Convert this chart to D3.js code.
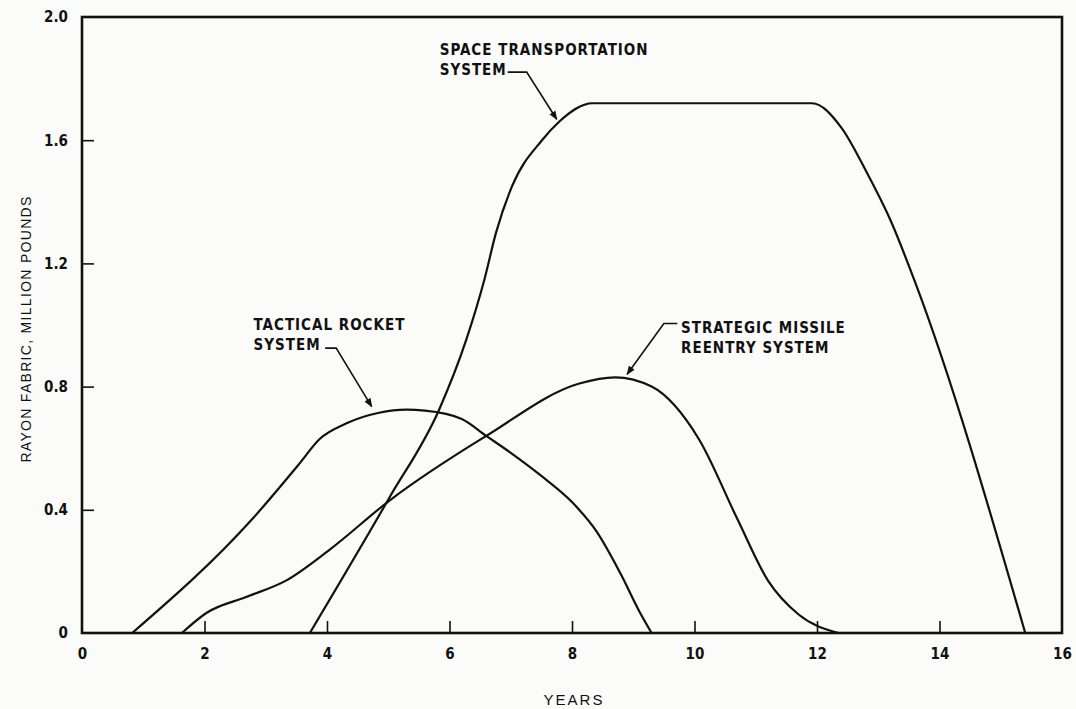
<!DOCTYPE html>
<html>
<head>
<meta charset="utf-8">
<script src="https://cdn.jsdelivr.net/npm/d3@7"></script>
<style>
  body { margin: 0; background: #fbfbfa; }
  svg { display: block; }
  .tick text { font-family: "Liberation Sans Narrow", "DejaVu Sans Condensed", sans-serif; font-weight: bold; font-size: 15px; fill: #111; }
  .note { font-family: "Liberation Sans Narrow", "DejaVu Sans Condensed", sans-serif; font-weight: bold; font-size: 15px; fill: #111; letter-spacing: 1px; }
  .title { font-family: "Liberation Sans", Arial, sans-serif; font-size: 14px; fill: #111; letter-spacing: 1.3px; }
  .curve { fill: none; stroke: #111; stroke-width: 2.2; }
</style>
</head>
<body>
<svg width="1076" height="709"></svg>
<script>
// values (years, million pounds)
var tacticalYears = [0.82, 2.78, 3.55, 3.88, 4.31, 4.85, 5.29, 5.6, 6.2, 6.6, 7.0, 7.5, 8.0, 8.4, 8.8, 9.1, 9.3];
var tacticalLbs   = [0, 0.37, 0.55, 0.63, 0.68, 0.715, 0.725, 0.722, 0.695, 0.64, 0.585, 0.51, 0.425, 0.33, 0.19, 0.07, 0];

var strategicYears = [1.63, 2.03, 2.68, 3.33, 4.04, 5.02, 6.6, 8.12, 8.7, 9.3, 10.07, 10.7, 11.2, 11.7, 12.35];
var strategicLbs   = [0, 0.065, 0.117, 0.17, 0.27, 0.43, 0.64, 0.81, 0.83, 0.80, 0.63, 0.37, 0.17, 0.06, 0];

var spaceYears = [3.72, 5.02, 5.83, 6.27, 6.57, 6.76, 7.02, 7.51, 7.79, 8.33, 11.92, 12.4, 12.8, 13.2, 13.6, 15.4];
var spaceLbs   = [0, 0.44, 0.725, 0.95, 1.148, 1.30, 1.45, 1.60, 1.66, 1.72, 1.72, 1.64, 1.50, 1.34, 1.14, 0];

var xTicks = [0, 2, 4, 6, 8, 10, 12, 14, 16];
var yTicks = [0, 0.4, 0.8, 1.2, 1.6, 2.0];

var svg = d3.select("svg");
var margin = {left: 82, right: 14, top: 17, bottom: 76};
var width = 1076 - margin.left - margin.right;
var height = 709 - margin.top - margin.bottom;

var x = d3.scaleLinear().domain([0, 16]).range([0, width]);
var y = d3.scaleLinear().domain([0, 2]).range([height, 0]);

var g = svg.append("g").attr("transform", translate(margin.left, margin.top));

// arrow head for the leader lines
svg.append("defs").append("marker")
  .attr("id", "arrow")
  .attr("viewBox", "0 0 10 10")
  .attr("refX", 9).attr("refY", 5)
  .attr("markerWidth", 9).attr("markerHeight", 9)
  .attr("markerUnits", "userSpaceOnUse")
  .attr("orient", "auto")
  .append("path")
  .attr("d", "M0,1 L10,5 L0,9 Z")
  .attr("fill", "#111");

// frame
g.append("rect")
  .attr("width", width).attr("height", height)
  .attr("fill", "none").attr("stroke", "#111").attr("stroke-width", 2.6);

// axes, ticks point inward
var xAxis = g.append("g")
  .attr("transform", translate(0, height))
  .call(d3.axisBottom(x).tickValues(xTicks).tickFormat(d3.format("d")).tickSize(-12).tickPadding(15));
var yAxis = g.append("g")
  .call(d3.axisLeft(y).tickValues(yTicks).tickFormat(function(d) { return d === 0 ? "0" : d3.format(".1f")(d); }).tickSize(-12).tickPadding(14));

[xAxis, yAxis].forEach(function(a) {
  a.select(".domain").remove();
  a.selectAll(".tick line").attr("stroke", "#111").attr("stroke-width", 1.6);
});
xAxis.selectAll(".tick").filter(function(d) { return d === 0 || d === 16; }).select("line").remove();
yAxis.selectAll(".tick").filter(function(d) { return d === 0 || d === 2; }).select("line").remove();

// curves
var line = d3.line()
  .x(function(d) { return x(d[0]); })
  .y(function(d) { return y(d[1]); })
  .curve(d3.curveMonotoneX);

var series = [
  d3.zip(tacticalYears, tacticalLbs),
  d3.zip(strategicYears, strategicLbs),
  d3.zip(spaceYears, spaceLbs)
];

g.selectAll("path.curve")
  .data(series)
  .enter()
  .append("path")
  .attr("class", "curve")
  .attr("d", line);

// annotations: text lines, text anchor and leader points in data units
var notes = [
  {lines: ["SPACE TRANSPORTATION", "SYSTEM"], at: [5.84, 1.877], leader: [[6.95, 1.821], [7.26, 1.821], [7.75, 1.668]]},
  {lines: ["TACTICAL ROCKET", "SYSTEM"], at: [2.8, 0.985], leader: [[3.97, 0.925], [4.15, 0.925], [4.73, 0.735]]},
  {lines: ["STRATEGIC MISSILE", "REENTRY SYSTEM"], at: [9.78, 0.973], leader: [[9.72, 1.005], [9.5, 1.005], [8.9, 0.84]]}
];

notes.forEach(function(n) {
  var t = g.append("text").attr("class", "note")
    .attr("x", x(n.at[0])).attr("y", y(n.at[1]));
  n.lines.forEach(function(s, i) {
    t.append("tspan").attr("x", x(n.at[0])).attr("dy", i === 0 ? 0 : 20).text(s);
  });
  g.append("path")
    .attr("d", d3.line().x(function(d) { return x(d[0]); }).y(function(d) { return y(d[1]); })(n.leader))
    .attr("fill", "none").attr("stroke", "#111").attr("stroke-width", 1.6)
    .attr("marker-end", "url(#arrow)");
});

// axis titles
svg.append("text").attr("class", "title")
  .attr("text-anchor", "middle")
  .style("font-size", "15px").style("letter-spacing", "2px")
  .attr("x", margin.left + width / 2 + 2).attr("y", 705)
  .text("YEARS");

svg.append("text").attr("class", "title")
  .attr("text-anchor", "middle")
  .attr("transform", translate(31, margin.top + height / 2 + 4) + " rotate(-90)")
  .text("RAYON FABRIC, MILLION POUNDS");

function translate(x, y) {
  return "translate(" + String(x) + "," + String(y) + ")";
}
</script>
</body>
</html>
